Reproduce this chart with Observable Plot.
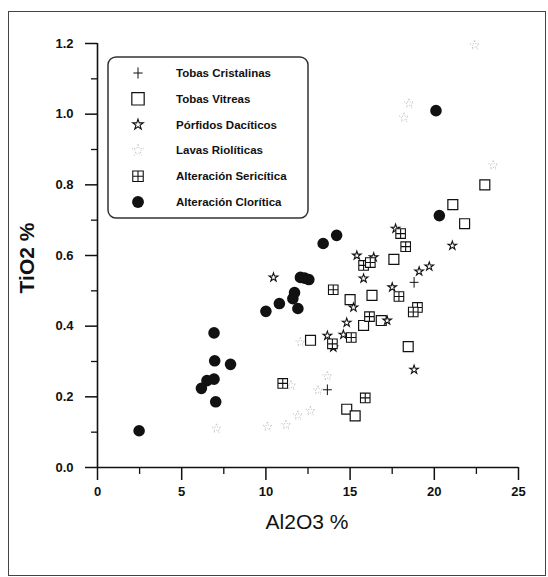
<!DOCTYPE html>
<html>
<head>
<meta charset="utf-8">
<script src="https://cdn.jsdelivr.net/npm/d3@7"></script>
<script src="https://cdn.jsdelivr.net/npm/@observablehq/plot@0.6"></script>
<style>
  html, body { margin: 0; padding: 0; background: #fff; }
  #wrap { position: relative; width: 548px; height: 577px; overflow: hidden; font-family: "Liberation Sans", Arial, sans-serif; color: #111; }
  #border { position: absolute; left: 8px; top: 11px; width: 536px; height: 563px; border: 1.5px solid #444; }
  #chart { position: absolute; left: 0; top: 0; }
  #legend { position: absolute; left: 0; top: 0; }
  .title { position: absolute; white-space: nowrap; color: #111; }
  #xtitle { left: 307px; top: 522px; transform: translate(-50%, -50%); font-size: 21px; font-weight: normal; }
  #ytitle { left: 27px; top: 258px; transform: translate(-50%, -50%) rotate(-90deg); font-size: 21px; font-weight: bold; }
</style>
</head>
<body>
<div id="wrap">
  <div id="border"></div>
  <div id="chart"></div>
  <div id="legend"></div>
  <div class="title" id="xtitle">Al2O3 %</div>
  <div class="title" id="ytitle">TiO2 %</div>
</div>
<script>
// ---- Data (Al2O3 %, TiO2 %) ----
const seriesNames = ["Tobas Cristalinas", "Tobas Vitreas", "Pórfidos Dacíticos", "Lavas Riolíticas", "Alteración Sericítica", "Alteración Clorítica"];

const tobasCristalinas = [[18.8, 0.524], [13.65, 0.22]];

const tobasVitreas = [
  [23.0, 0.80], [21.1, 0.744], [21.8, 0.69], [17.6, 0.589], [16.3, 0.487],
  [15.0, 0.475], [15.8, 0.402], [16.85, 0.416], [18.45, 0.342], [12.65, 0.36],
  [14.8, 0.165], [15.3, 0.146]
];

const porfidosDaciticos = [
  [10.45, 0.538], [17.7, 0.676], [15.4, 0.60], [16.4, 0.595], [15.8, 0.535],
  [21.07, 0.628], [19.7, 0.569], [19.1, 0.555], [17.5, 0.51], [15.2, 0.453],
  [14.8, 0.41], [17.2, 0.416], [13.65, 0.373], [14.6, 0.376], [14.0, 0.34],
  [18.8, 0.277]
];

const lavasRioliticas = [
  [12.05, 0.354], [11.5, 0.232], [13.65, 0.258], [13.1, 0.218], [12.65, 0.16],
  [11.9, 0.147], [11.2, 0.12], [10.1, 0.115], [7.07, 0.11],
  [18.5, 1.03], [18.2, 0.99], [23.5, 0.855], [22.4, 1.195]
];

const alteracionSericitica = [
  [18.0, 0.662], [18.3, 0.625], [15.8, 0.572], [16.2, 0.58], [14.0, 0.503],
  [17.9, 0.484], [19.0, 0.453], [18.75, 0.44], [16.15, 0.427], [15.07, 0.368],
  [13.95, 0.35], [11.0, 0.238], [15.9, 0.197]
];

const alteracionCloritica = [
  [20.1, 1.01], [20.3, 0.713], [14.2, 0.657], [13.4, 0.634], [12.05, 0.538],
  [12.3, 0.536], [12.55, 0.532], [11.7, 0.495], [11.6, 0.478], [11.9, 0.45],
  [10.8, 0.464], [10.0, 0.442], [6.92, 0.381], [6.96, 0.302], [7.9, 0.292],
  [6.92, 0.25], [6.5, 0.246], [6.17, 0.224], [7.02, 0.186], [2.47, 0.104]
];

const xMajor = [0, 5, 10, 15, 20, 25];
const xMinor = [2.5, 7.5, 12.5, 17.5, 22.5];
const yMajor = [0, 0.2, 0.4, 0.6, 0.8, 1.0, 1.2];
const yMinor = [0.1, 0.3, 0.5, 0.7, 0.9, 1.1];

// ---- custom symbols ----
const plusSym = {draw(ctx, size) { const s = Math.sqrt(size) / 2; ctx.moveTo(-s, 0); ctx.lineTo(s, 0); ctx.moveTo(0, -s * 1.2); ctx.lineTo(0, s * 1.2); }};
const squareSym = {draw(ctx, size) { const s = Math.sqrt(size) / 2; ctx.moveTo(-s, -s); ctx.lineTo(s, -s); ctx.lineTo(s, s); ctx.lineTo(-s, s); ctx.closePath(); }};
const boxPlusSym = {draw(ctx, size) { const s = Math.sqrt(size) / 2; ctx.moveTo(-s, -s); ctx.lineTo(s, -s); ctx.lineTo(s, s); ctx.lineTo(-s, s); ctx.closePath(); ctx.moveTo(0, -s); ctx.lineTo(0, s); ctx.moveTo(-s, 0); ctx.lineTo(s, 0); }};

const ink = "#111";
const styles = [
  {data: tobasCristalinas, symbol: plusSym, r: 5, fill: "none", stroke: ink, strokeWidth: 1},
  {data: tobasVitreas, symbol: squareSym, r: 5.6, fill: "white", stroke: ink, strokeWidth: 1.2},
  {data: porfidosDaciticos, symbol: "star", r: 2.7, fill: "white", stroke: ink, strokeWidth: 1.1},
  {data: lavasRioliticas, symbol: "star", r: 2.9, fill: "none", stroke: "#b5b5b5", strokeWidth: 1, strokeDasharray: "1,1.8"},
  {data: alteracionSericitica, symbol: boxPlusSym, r: 5.4, fill: "white", stroke: ink, strokeWidth: 1.1},
  {data: alteracionCloritica, symbol: "circle", r: 5.8, fill: ink, stroke: "none", strokeWidth: 0}
];

const fontFamily = "'Liberation Sans', Arial, sans-serif";

const chart = Plot.plot({
  width: 548,
  height: 577,
  marginLeft: 97,
  marginRight: 30,
  marginTop: 43,
  marginBottom: 110,
  style: {fontFamily, background: "transparent", color: ink, overflow: "visible"},
  x: {domain: [0, 25]},
  y: {domain: [0, 1.2]},
  marks: [
    Plot.axisX({ticks: xMinor, tickSize: 7, tickFormat: () => "", label: null, strokeWidth: 1.3}),
    Plot.axisX({ticks: xMajor, tickSize: 13, tickPadding: 6, tickFormat: d => String(d), label: null, fontSize: 13, fontWeight: "bold", strokeWidth: 1.5}),
    Plot.axisY({ticks: yMinor, tickSize: 6, tickFormat: () => "", label: null, strokeWidth: 1.3}),
    Plot.axisY({ticks: yMajor, tickSize: 12, tickPadding: 12, tickFormat: d => d.toFixed(1), label: null, fontSize: 13, fontWeight: "bold", strokeWidth: 1.5}),
    Plot.ruleX([0], {stroke: ink, strokeWidth: 1.6}),
    Plot.ruleY([0], {stroke: ink, strokeWidth: 1.6}),
    ...styles.map(s => Plot.dot(s.data, {
      x: d => d[0], y: d => d[1], symbol: () => s.symbol, r: s.r,
      fill: s.fill, stroke: s.stroke, strokeWidth: s.strokeWidth,
      strokeDasharray: s.strokeDasharray
    }))
  ]
});
document.getElementById("chart").appendChild(chart);

// ---- legend ----
const lg = d3.select("#legend").append("svg").attr("width", 548).attr("height", 577);
lg.append("rect").attr("x", 108).attr("y", 57).attr("width", 200).attr("height", 161)
  .attr("rx", 8).attr("fill", "white").attr("stroke", "#333").attr("stroke-width", 1.5);
const symMap = {star: d3.symbolStar, circle: d3.symbolCircle};
styles.forEach((s, i) => {
  const cy = 73 + i * 25.8;
  const type = typeof s.symbol === "string" ? symMap[s.symbol] : s.symbol;
  const sizeScale = [1.1, 1.55, 1.5, 1.5, 1.2, 1.05][i];
  lg.append("path")
    .attr("transform", `translate(138,${cy})`)
    .attr("d", d3.symbol().type(type).size(Math.PI * s.r * s.r * sizeScale)())
    .attr("fill", s.fill).attr("stroke", s.stroke).attr("stroke-width", s.strokeWidth)
    .attr("stroke-dasharray", s.strokeDasharray || null);
  lg.append("text").attr("x", 176).attr("y", cy).attr("dy", "0.35em")
    .attr("font-family", fontFamily).attr("font-size", 11.5).attr("font-weight", "bold")
    .attr("fill", ink).text(seriesNames[i]);
});
</script>
</body>
</html>
